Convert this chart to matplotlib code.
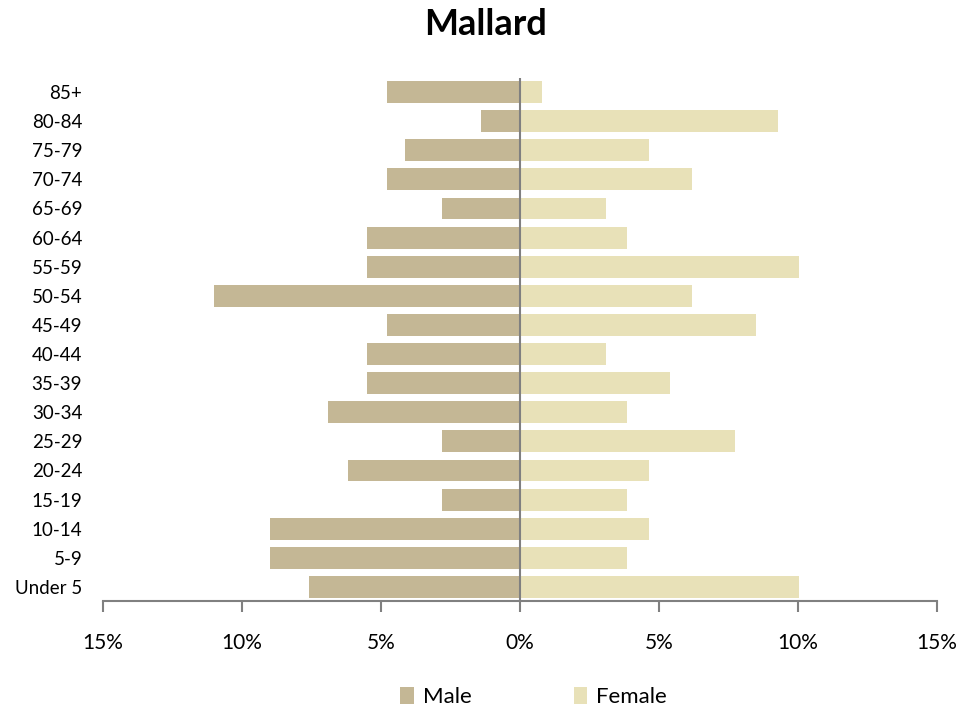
import matplotlib.pyplot as plt
from matplotlib.ticker import FuncFormatter

age_groups = ['Under 5', '5-9', '10-14', '15-19', '20-24', '25-29', '30-34',
              '35-39', '40-44', '45-49', '50-54', '55-59', '60-64', '65-69',
              '70-74', '75-79', '80-84', '85+']
male = [7.6, 9.0, 9.0, 2.8, 6.2, 2.8, 6.9, 5.5, 5.5, 4.8, 11.0, 5.5, 5.5,
        2.8, 4.8, 4.15, 1.4, 4.8]
female = [10.05, 3.85, 4.65, 3.85, 4.65, 7.75, 3.85, 5.4, 3.1, 8.5, 6.2, 10.05,
          3.85, 3.1, 6.2, 4.65, 9.3, 0.78]

male_color = '#C4B795'
female_color = '#E8E1B8'

plt.rcParams['font.family'] = ['Lato', 'DejaVu Sans']

fig = plt.figure(figsize=(9.79, 7.13), dpi=100)
ax = fig.add_axes([0.1052, 0.1564, 0.8518, 0.7349])

y = range(len(age_groups))
ax.barh(y, [-v for v in male], height=0.75, color=male_color, label='Male')
ax.barh(y, female, height=0.75, color=female_color, label='Female')
ax.axvline(0, color='#808080', lw=1.5)

ax.set_xlim(-15, 15)
ax.set_ylim(-0.5, len(age_groups) - 0.5)
ax.set_xticks([-15, -10, -5, 0, 5, 10, 15])
ax.xaxis.set_major_formatter(FuncFormatter(lambda v, p: f'{abs(v):.0f}%'))
ax.set_yticks(list(y))
ax.set_yticklabels(age_groups)

for s in ['top', 'right', 'left']:
    ax.spines[s].set_visible(False)
ax.spines['bottom'].set_color('#808080')
ax.spines['bottom'].set_linewidth(1.5)
ax.tick_params(axis='x', direction='out', length=8, width=1.5, color='#808080',
               labelsize=15, pad=15)
ax.tick_params(axis='y', length=0, labelsize=13.5, pad=15)

fig.suptitle('Mallard', fontsize=26, fontweight='bold', x=0.496, y=0.965,
             va='center')

fig.legend(loc='center', bbox_to_anchor=(0.545, 0.022), ncol=2, frameon=False,
           fontsize=16, handlelength=0.6, handleheight=0.8, columnspacing=4.6,
           handletextpad=0.4)

fig.savefig('out.png', dpi=100)
